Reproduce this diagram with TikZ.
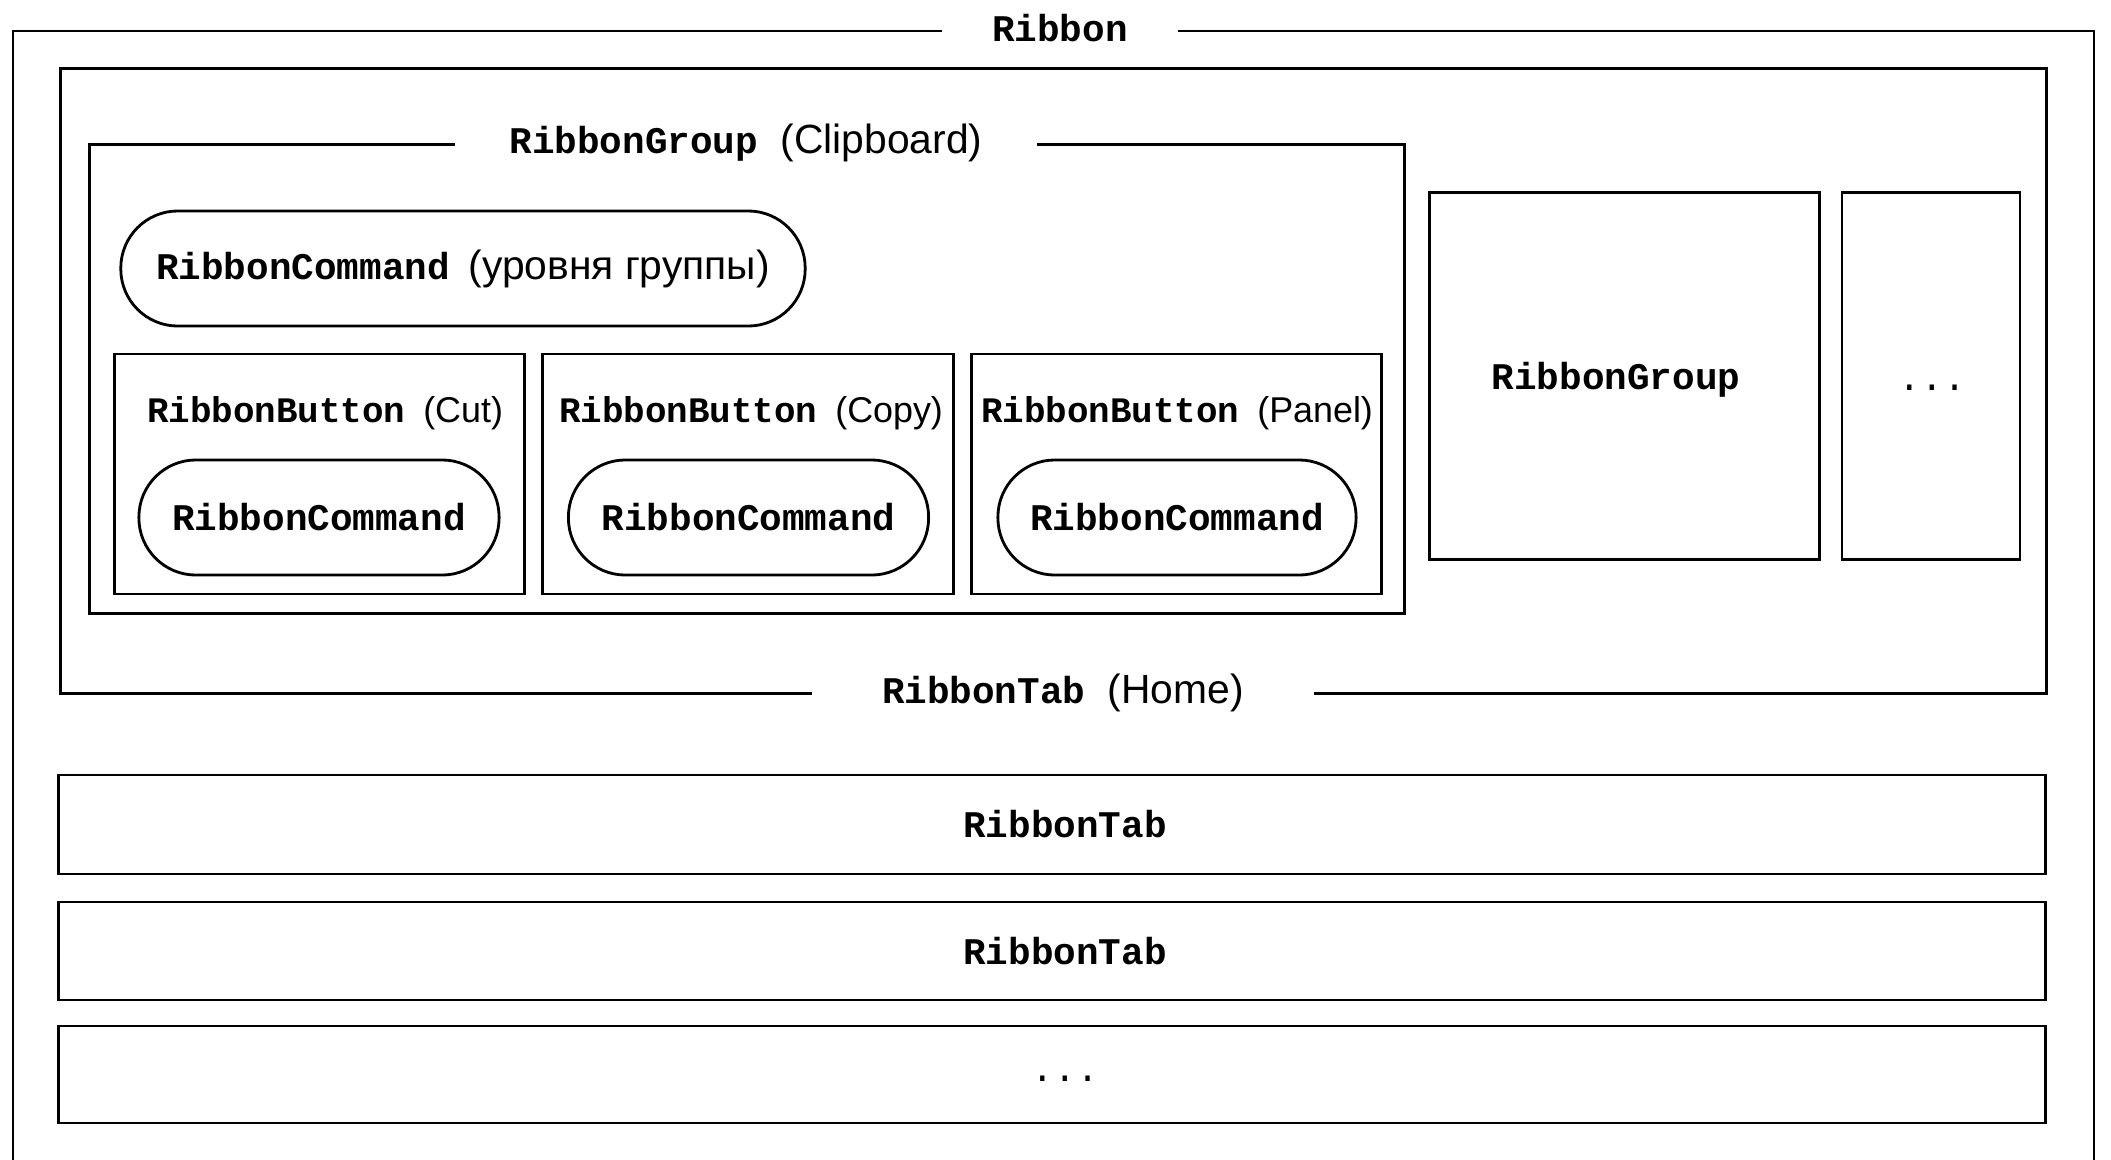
\documentclass[tikz,border=0pt]{standalone}
\usepackage{fontspec}
\setmainfont{Liberation Sans}
\newfontfamily\monofont{Liberation Mono}
\newcommand{\cls}[1]{{\monofont\bfseries #1}}
\newcommand{\note}[1]{{\fontsize{11.6}{13}\selectfont #1}}

\begin{document}
\begin{tikzpicture}[x=0.01cm, y=-0.01cm, line width=0.8pt,
		font=\fontsize{10.7}{13}\selectfont,
		box/.style={draw, rectangle, inner sep=0pt},
		pill/.style={draw, rectangle, rounded corners=0.57cm, inner sep=0pt, minimum height=1.15cm},
		title/.style={fill=white, inner xsep=0.6cm, inner ysep=2pt},
		btnlabel/.style={font=\fontsize{10.2}{12}\selectfont, inner sep=0pt}]
		\useasboundingbox (0,0) rectangle (2111,1160);
		% Ribbon (open at the bottom)
		\draw (13,1180) -- (13,31) -- (2094,31) -- (2094,1180);
		\node[title, inner xsep=0.5cm] (ribbon) at (1060,28) {\cls{Ribbon}};
		% RibbonTab (Home)
		\node[box, minimum width=19.85cm, minimum height=6.24cm] (home) at (1053.5,381) {};
		\node[title, inner xsep=0.7cm] (hometitle) at (1063,693) {\cls{RibbonTab}\hspace{0.6em}\note{(Home)}};
		% RibbonGroup (Clipboard)
		\node[box, minimum width=13.14cm, minimum height=4.68cm] (clip) at (747,379) {};
		\node[title, inner xsep=0.55cm] (cliptitle) at (746,143) {\cls{RibbonGroup}\hspace{0.6em}\note{(Clipboard)}};
		\node[pill, minimum width=6.84cm] (groupcmd) at (463,268.5) {\cls{RibbonCommand}\hspace{0.5em}\note{(уровня группы)}};
		% buttons
		\node[box, minimum width=4.1cm, minimum height=2.4cm] (cut) at (319.5,474) {};
		\node[box, minimum width=4.1cm, minimum height=2.4cm] (copy) at (748,474) {};
		\node[box, minimum width=4.1cm, minimum height=2.4cm] (panel) at (1176.5,474) {};
		\node[btnlabel] (cutlabel) at (325,413) {\cls{RibbonButton}\hspace{0.5em}(Cut)};
		\node[btnlabel] (copylabel) at (751,413) {\cls{RibbonButton}\hspace{0.5em}(Copy)};
		\node[btnlabel] (panellabel) at (1177,413) {\cls{RibbonButton}\hspace{0.5em}(Panel)};
		\node[pill, minimum width=3.6cm] (cutcmd) at (319,517.5) {\cls{RibbonCommand}};
		\node[pill, minimum width=3.6cm] (copycmd) at (748.5,517.5) {\cls{RibbonCommand}};
		\node[pill, minimum width=3.58cm] (panelcmd) at (1177,517.5) {\cls{RibbonCommand}};
		% other groups
		\node[box, minimum width=3.89cm, minimum height=3.66cm] (group) at (1624.5,376) {};
		\node (grouplabel) at (1616,380) {\cls{RibbonGroup}};
		\node[box, minimum width=1.78cm, minimum height=3.66cm] (moregroups) at (1931,376) {};
		\node (moregroupslabel) at (1932,388) {\monofont ...};
		% other tabs
		\node[box, minimum width=19.86cm, minimum height=0.99cm] (tab1) at (1052,824.5) {};
		\node[box, minimum width=19.86cm, minimum height=0.98cm] (tab2) at (1052,951) {};
		\node[box, minimum width=19.86cm, minimum height=0.97cm] (tab3) at (1052,1074.5) {};
		\node (tab1label) at ([xshift=0.13cm]tab1.center) {\cls{RibbonTab}};
		\node (tab2label) at ([xshift=0.13cm]tab2.center) {\cls{RibbonTab}};
		\node (tab3label) at ([xshift=0.13cm,yshift=-0.04cm]tab3.center) {\monofont ...};
\end{tikzpicture}
\end{document}
